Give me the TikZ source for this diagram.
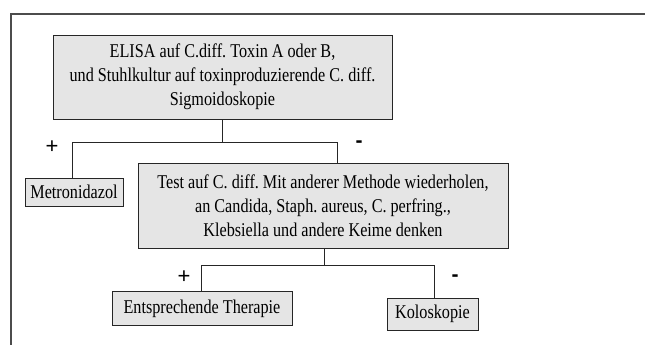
\documentclass[tikz,border=0pt]{standalone}
\usepackage{fontspec}
\setmainfont[FakeStretch=0.83]{Liberation Serif}
\newfontfamily\signfont{Liberation Sans}
\frenchspacing
\begin{document}
\begin{tikzpicture}[x=1pt,y=-1pt,
  box/.style={draw=black!85,line width=0.8pt,fill=black!10,align=center,inner sep=0pt,
    font=\fontsize{19.5}{24}\selectfont\frenchspacing},
  conn/.style={line width=0.8pt,draw=black!85},
  sign/.style={font=\signfont\fontsize{22}{22}\selectfont,inner sep=0pt},
  minus/.style={font=\signfont\bfseries\fontsize{21}{21}\selectfont,inner sep=0pt},
  frame/.style={line width=1.1pt,draw=black!70}]
\useasboundingbox (0,0) rectangle (645,345);
\coordinate (ftl) at (11,14);
\coordinate (ftr) at (645,14);
\coordinate (fbl) at (11,345);
\draw[frame] (ftr) -- (ftl) -- (fbl);
\node[box,minimum width=339,minimum height=84] (b1) at (222.5,77)
  {ELISA auf C.diff. Toxin A oder B,\\und Stuhlkultur auf toxinproduzierende C. diff.\\Sigmoidoskopie};
\node[box,minimum width=98,minimum height=28] (met) at (74,192) {Metronidazol};
\node[box,minimum width=370,minimum height=85] (b2) at (323,205.5)
  {Test auf C. diff. Mit anderer Methode wiederholen,\\an Candida, Staph. aureus, C. perfring.,\\Klebsiella und andere Keime denken};
\node[box,minimum width=180,minimum height=34] (ther) at (202,308.5) {Entsprechende Therapie};
\node[box,minimum width=91,minimum height=32] (kol) at (432.5,314) {Koloskopie};
\coordinate (a1) at (72,142);
\coordinate (a2) at (337,142);
\coordinate (c1) at (201,265);
\coordinate (c2) at (434,265);
\draw[conn] (b1.south) -- (b1.south |- a1);
\draw[conn] (met.north -| a1) -- (a1) -- (a2) -- (a2 |- b2.north);
\draw[conn] (b2.south -| 324,0) -- (324,265);
\draw[conn] (ther.north -| c1) -- (c1) -- (c2) -- (c2 |- kol.north);
\node[sign] (p1) at (52,147) {+};
\node[minus] (m1) at (359,144) {-};
\node[sign] (p2) at (184,277) {+};
\node[minus] (m2) at (455,278) {-};
\end{tikzpicture}
\end{document}
